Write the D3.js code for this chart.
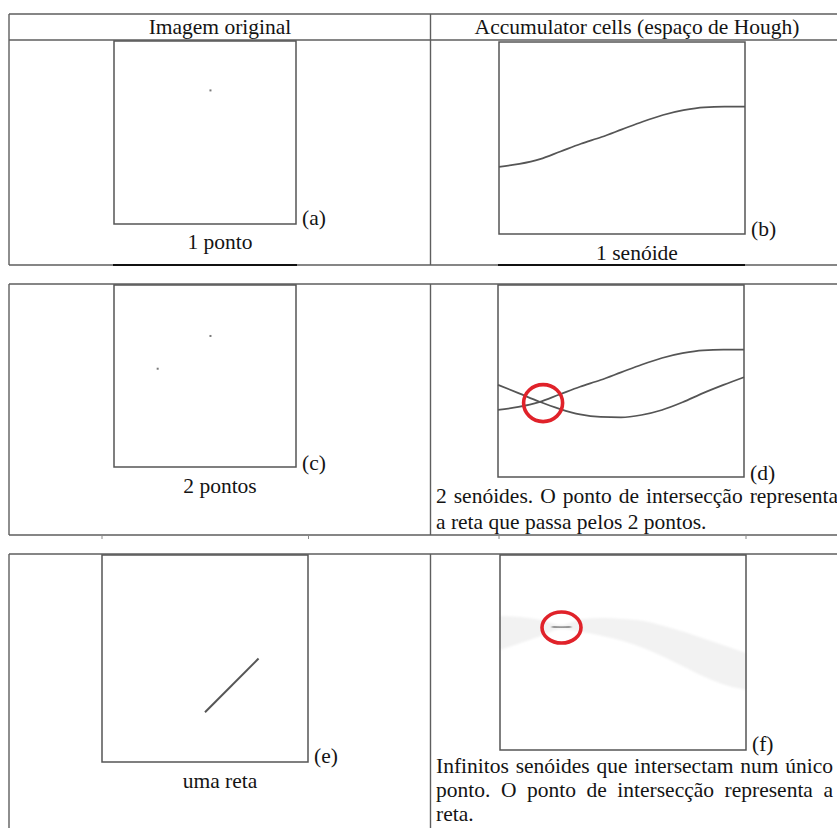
<!DOCTYPE html>
<html>
<head>
<meta charset="utf-8">
<script src="https://cdn.jsdelivr.net/npm/d3@7"></script>
<style>
  body { margin: 0; background: #fff; }
  svg { display: block; }
  text { font-family: "Liberation Serif", "Times New Roman", serif; fill: #141414; }
</style>
</head>
<body>
<svg id="fig" width="837" height="828"></svg>
<script>
// ---- Hough transform illustration data ----
// Column headings
const headings = ["Imagem original", "Accumulator cells (espaço de Hough)"];

// Image space: pixel positions in % of the image frame (x from left, y from top)
const pointA = [[53, 27]];
const pointsC = [[53, 28], [24, 46]];
const segmentE = [[50, 76], [76, 50]];

// Hough space: theta (degrees) vs rho (% of accumulator height, from bottom)
const thetaDeg = [0, 15, 30, 45, 60, 75, 90, 105, 120, 135, 150, 165, 180];
const sinusoidA = [35, 36.5, 39, 43, 47, 50.5, 54.5, 58.5, 62, 64.5, 66, 66.3, 66.3];
const sinusoidB = [48, 43.7, 39.3, 35.5, 32.6, 31.3, 31.1, 32.3, 34.9, 38.9, 43.7, 48, 52];

// Envelope of the family of sinusoids produced by the points of a line
const bandUpper = [68.7, 68.2, 66.7, 64.1, 67.2, 67.7, 67.2, 66.2, 63.6, 60.5, 56.9, 53.3, 49.7];
const bandLower = [51.3, 54.9, 58.5, 62.1, 60.5, 58.5, 55.9, 52.3, 47.7, 42.6, 37.4, 33.3, 30.8];
const bandCoreTheta = [38, 45, 52];
const bandCoreRho = [63.3, 62.8, 63.3];

// Intersection (accumulator peak) markers
const peakD = { theta: 33, rho: 38.5 };
const peakF = { theta: 45, rho: 62.8 };

// Captions
const tags = ["(a)", "(b)", "(c)", "(d)", "(e)", "(f)"];
const captionA = "1 ponto";
const captionB = "1 senóide";
const captionC = "2 pontos";
const captionE = "uma reta";
const captionD = ["2 senóides. O ponto de intersecção representa", "a reta que passa pelos 2 pontos."];
const captionF = ["Infinitos senóides que intersectam num único", "ponto. O ponto de intersecção representa a", "reta."];

// ---- drawing ----
const svg = d3.select("#fig");
const FS = 21.5;
const lineCol = "#5e5e5e";
const boxCol = "#555";

// table frames
function frame(y0, y1, header) {
  const g = svg.append("g").attr("fill", "none").attr("stroke", lineCol).attr("stroke-width", 1.4);
  g.append("line").attr("x1", 9).attr("x2", 837).attr("y1", y0).attr("y2", y0);
  if (y1 < 828) g.append("line").attr("x1", 9).attr("x2", 837).attr("y1", y1).attr("y2", y1);
  g.append("line").attr("x1", 9).attr("x2", 9).attr("y1", y0).attr("y2", Math.min(y1, 828));
  g.append("line").attr("x1", 430.5).attr("x2", 430.5).attr("y1", y0).attr("y2", Math.min(y1, 828));
  if (header) g.append("line").attr("x1", 9).attr("x2", 837).attr("y1", header).attr("y2", header);
}
frame(14, 265, 40);
frame(284, 535);
frame(554, 900);

// headings
svg.append("text").attr("x", 220).attr("y", 34).attr("text-anchor", "middle").attr("font-size", FS).text(headings[0]);
svg.append("text").attr("x", 637).attr("y", 34).attr("text-anchor", "middle").attr("font-size", FS).text(headings[1]);

// dark edges where the next frames' borders meet the table rules
const seams = [[113, 297, 265], [498, 745, 265]];
svg.append("g").selectAll("line").data(seams).join("line")
  .attr("x1", d => d[0]).attr("x2", d => d[1]).attr("y1", d => d[2]).attr("y2", d => d[2])
  .attr("stroke", "#111").attr("stroke-width", 1.8);
const stubs = [102, 308.5, 499, 746];
svg.append("g").selectAll("line").data(stubs).join("line")
  .attr("x1", d => d).attr("x2", d => d).attr("y1", 535).attr("y2", 539)
  .attr("stroke", "#888").attr("stroke-width", 1);

// panel boxes (pixel layout)
const boxes = {
  a: { x0: 114, x1: 296, y0: 41, y1: 224 },
  b: { x0: 499, x1: 745, y0: 42, y1: 234 },
  c: { x0: 114, x1: 296, y0: 285, y1: 467 },
  d: { x0: 498, x1: 744, y0: 285, y1: 477 },
  e: { x0: 102, x1: 308, y0: 555, y1: 762 },
  f: { x0: 500, x1: 746, y0: 555, y1: 750 }
};

function drawBox(b) {
  svg.append("rect").attr("x", b.x0).attr("y", b.y0)
    .attr("width", b.x1 - b.x0).attr("height", b.y1 - b.y0)
    .attr("fill", "none").attr("stroke", boxCol).attr("stroke-width", 1.5);
}

function imageScales(b) {
  return {
    x: d3.scaleLinear().domain([0, 100]).range([b.x0, b.x1]),
    y: d3.scaleLinear().domain([0, 100]).range([b.y0, b.y1])
  };
}
function houghScales(b) {
  return {
    x: d3.scaleLinear().domain([0, 180]).range([b.x0, b.x1]),
    y: d3.scaleLinear().domain([0, 100]).range([b.y1, b.y0])
  };
}

function drawPoints(b, pts) {
  const s = imageScales(b);
  svg.append("g").selectAll("rect").data(pts).join("rect")
    .attr("x", d => s.x(d[0]) - 1).attr("y", d => s.y(d[1]) - 1)
    .attr("width", 2).attr("height", 2).attr("fill", "#7a7a7a");
}

function drawSinusoid(b, rho) {
  const s = houghScales(b);
  const line = d3.line().x((d, i) => s.x(thetaDeg[i])).y(d => s.y(d)).curve(d3.curveMonotoneX);
  svg.append("path").attr("d", line(rho)).attr("fill", "none")
    .attr("stroke", "#555").attr("stroke-width", 1.7);
}

function tag(b, t, dy) {
  svg.append("text").attr("x", b.x1 + 6).attr("y", b.y1 + dy).attr("font-size", FS).text(t);
}

function caption(cx, y, t) {
  svg.append("text").attr("x", cx).attr("y", y).attr("text-anchor", "middle").attr("font-size", FS).text(t);
}

function peakRing(b, p, rx, ry) {
  const s = houghScales(b);
  svg.append("ellipse").attr("cx", s.x(p.theta)).attr("cy", s.y(p.rho))
    .attr("rx", rx).attr("ry", ry).attr("fill", "none")
    .attr("stroke", "#e0222a").attr("stroke-width", 3.6);
}

// justified paragraph line: words spread between x0 and x1
function justified(words, x0, x1, y) {
  const g = svg.append("g");
  const nodes = words.map(w => g.append("text").attr("y", y).attr("font-size", FS).text(w));
  const widths = nodes.map(n => n.node().getComputedTextLength());
  const total = d3.sum(widths);
  const gap = words.length > 1 ? (x1 - x0 - total) / (words.length - 1) : 0;
  let x = x0;
  nodes.forEach((n, i) => { n.attr("x", x); x += widths[i] + gap; });
}

// (a)
drawBox(boxes.a);
drawPoints(boxes.a, pointA);
tag(boxes.a, tags[0], 1);
caption(220, 249, captionA);

// (b)
drawBox(boxes.b);
drawSinusoid(boxes.b, sinusoidA);
tag(boxes.b, tags[1], 2);
caption(637, 260, captionB);

// (c)
drawBox(boxes.c);
drawPoints(boxes.c, pointsC);
tag(boxes.c, tags[2], 3);
caption(220, 493, captionC);

// (d)
drawBox(boxes.d);
drawSinusoid(boxes.d, sinusoidA);
drawSinusoid(boxes.d, sinusoidB);
peakRing(boxes.d, peakD, 19.5, 18.5);
tag(boxes.d, tags[3], 3);
justified(captionD[0].split(" "), 436, 838, 503);
svg.append("text").attr("x", 436).attr("y", 529).attr("font-size", FS).text(captionD[1]);

// (e)
drawBox(boxes.e);
{
  const s = imageScales(boxes.e);
  svg.append("line")
    .attr("x1", s.x(segmentE[0][0])).attr("y1", s.y(segmentE[0][1]))
    .attr("x2", s.x(segmentE[1][0])).attr("y2", s.y(segmentE[1][1]))
    .attr("stroke", "#555").attr("stroke-width", 2);
}
tag(boxes.e, tags[4], 1);
caption(220, 788, captionE);

// (f)
{
  const b = boxes.f;
  const s = houghScales(b);
  const defs = svg.append("defs");
  defs.append("filter").attr("id", "soft").append("feGaussianBlur").attr("stdDeviation", 0.9);
  const area = d3.area()
    .x((d, i) => s.x(thetaDeg[i]))
    .y0((d, i) => s.y(bandLower[i]))
    .y1((d, i) => s.y(bandUpper[i]))
    .curve(d3.curveMonotoneX);
  svg.append("path").attr("d", area(thetaDeg)).attr("fill", "#f2f2f2").attr("filter", "url(#soft)");
  const core = d3.line().x(d => s.x(d)).y((d, i) => s.y(bandCoreRho[i])).curve(d3.curveMonotoneX);
  svg.append("path").attr("d", core(bandCoreTheta)).attr("fill", "none")
    .attr("stroke", "#444").attr("stroke-width", 1.8).attr("filter", "url(#soft)");
  drawBox(b);
  peakRing(b, peakF, 19.5, 15.5);
  tag(b, tags[5], 1);
}
justified(captionF[0].split(" "), 436, 833, 773);
justified(captionF[1].split(" "), 436, 833, 797);
svg.append("text").attr("x", 436).attr("y", 821).attr("font-size", FS).text(captionF[2]);
</script>
</body>
</html>
